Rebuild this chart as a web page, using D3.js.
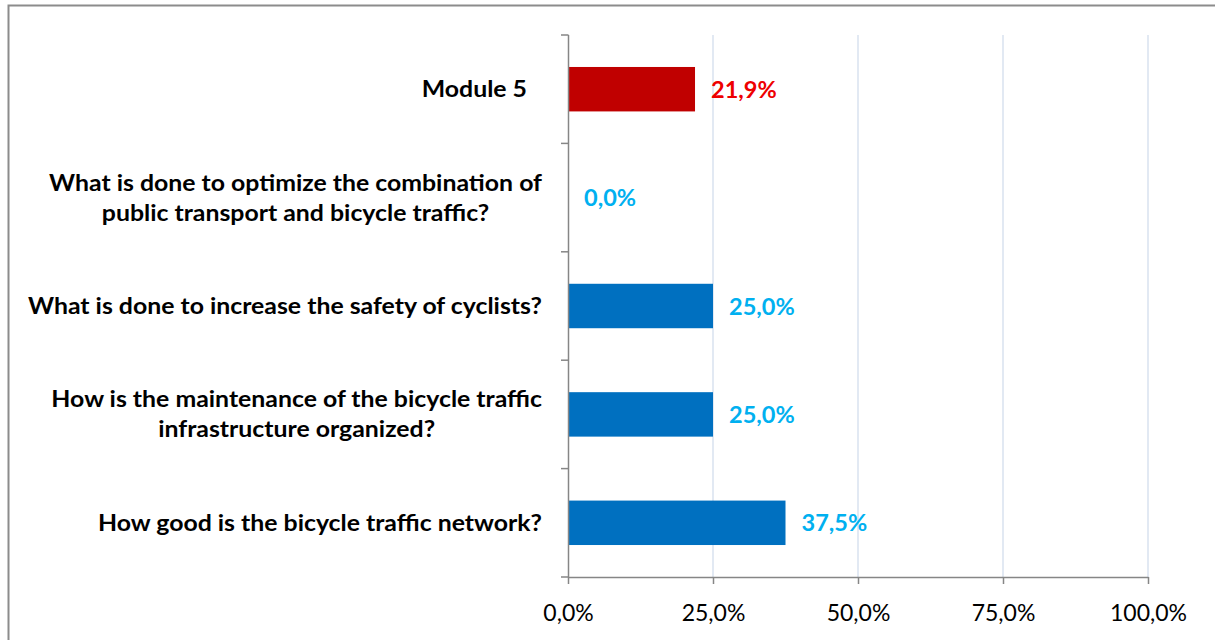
<!DOCTYPE html>
<html>
<head>
  <meta charset="utf-8">
  <title>Module 5</title>
  <script src="https://cdn.jsdelivr.net/npm/d3@7/dist/d3.min.js"></script>
  <style>
    body { margin: 0; background: #fff; }
    text { font-family: Lato, "Open Sans", sans-serif; }
    .cat { font-weight: bold; font-size: 23.5px; fill: #000; }
    .val { font-weight: bold; font-size: 23.5px; }
    .xlbl { font-size: 23px; fill: #000; }
  </style>
</head>
<body>
<svg width="1215" height="640"></svg>
<script>

// chart data, top to bottom
var categories = [
  ["Module 5"],
  ["What is done to optimize the combination of", "public transport and bicycle traffic?"],
  ["What is done to increase the safety of cyclists?"],
  ["How is the maintenance of the bicycle traffic", "infrastructure organized?"],
  ["How good is the bicycle traffic network?"]
];
var values = [21.9, 0.0, 25.0, 25.0, 37.5];
var xTicks = [0, 25, 50, 75, 100];

var svg = d3.select("svg");

var pct = function(d) { return d3.format(".1f")(d).replace(".", ",") + "%"; };

// outer frame
svg.append("rect")
    .attr("x", 8.5).attr("y", 5.5)
    .attr("width", 1230).attr("height", 700)
    .attr("fill", "none")
    .attr("stroke", "#8c8c8c")
    .attr("stroke-width", 2);

var x = d3.scaleLinear().domain([0, 100]).range([568, 1148]);
var y = d3.scaleBand().domain(d3.range(categories.length)).range([35, 577]);
var barH = y.bandwidth() * 0.41;

// gridlines
svg.append("g").selectAll("line")
  .data(xTicks.filter(function(d) { return d > 0; }))
  .enter().append("line")
    .attr("x1", function(d) { return x(d); })
    .attr("x2", function(d) { return x(d); })
    .attr("y1", 35).attr("y2", 577)
    .attr("stroke", "#d9e2ef")
    .attr("stroke-width", 1.5);

// bars
svg.append("g").selectAll("rect")
  .data(values)
  .enter().append("rect")
    .attr("x", x(0))
    .attr("y", function(d, i) { return y(i) + (y.bandwidth() - barH) / 2; })
    .attr("width", function(d) { return x(d) - x(0); })
    .attr("height", barH)
    .attr("fill", function(d, i) { return i === 0 ? "#c00000" : "#0070c0"; });

// value labels
svg.append("g").selectAll("text")
  .data(values)
  .enter().append("text")
    .attr("class", "val")
    .attr("x", function(d) { return x(d) + 16; })
    .attr("y", function(d, i) { return y(i) + y.bandwidth() / 2 + 8.5; })
    .attr("fill", function(d, i) { return i === 0 ? "#ee0000" : "#00b0f0"; })
    .text(pct);

// y axis line + ticks at band edges
var edges = d3.range(categories.length + 1).map(function(i) { return 35 + i * y.step(); });
svg.append("line")
    .attr("x1", 568.5).attr("x2", 568.5).attr("y1", 35).attr("y2", 577)
    .attr("stroke", "#868686").attr("stroke-width", 1.5);
svg.append("g").selectAll("line")
  .data(edges)
  .enter().append("line")
    .attr("x1", 561).attr("x2", 568.5)
    .attr("y1", function(d) { return d; })
    .attr("y2", function(d) { return d; })
    .attr("stroke", "#868686").attr("stroke-width", 1.5);

// x axis
var xAxis = svg.append("g")
    .attr("transform", "translate(0,577)")
    .call(d3.axisBottom(x).tickValues(xTicks).tickSize(7).tickSizeOuter(0).tickFormat(pct));
xAxis.select(".domain").attr("stroke", "#868686").attr("stroke-width", 1.5);
xAxis.selectAll(".tick line").attr("stroke", "#868686").attr("stroke-width", 1.5);
xAxis.selectAll(".tick text")
    .attr("class", "xlbl")
    .attr("y", 44).attr("dy", null)
    .style("font-family", null).style("font-size", null);
xAxis.attr("font-family", null).attr("font-size", null);

// category labels, centred lines in a block ending at x=542
var catG = svg.append("g");
categories.forEach(function(lines, i) {
  var cy = y(i) + y.bandwidth() / 2;
  var t = catG.append("text")
      .attr("class", "cat")
      .attr("text-anchor", "middle");
  lines.forEach(function(line, j) {
    t.append("tspan")
      .attr("y", lines.length === 1 ? cy + 8 : cy - 7 + j * 30)
      .text(line);
  });
});

// squeeze the labels a little so they match the narrow source font
var ref = catG.selectAll("tspan").filter(function() { return this.textContent.indexOf("safety") > 0; }).node();
var sx = 514 / ref.getComputedTextLength();
catG.selectAll("text").each(function(lines, i) {
  var t = d3.select(this);
  var w = 0;
  t.selectAll("tspan").each(function() { w = Math.max(w, this.getComputedTextLength() * sx); });
  var right = categories[i][0] === "Module 5" ? 527 : 542;
  t.selectAll("tspan").each(function() {
    var tw = this.getComputedTextLength();
    d3.select(this)
      .attr("x", right - w / 2)
      .attr("textLength", tw * sx)
      .attr("lengthAdjust", "spacingAndGlyphs");
  });
});

</script>
</body>
</html>
